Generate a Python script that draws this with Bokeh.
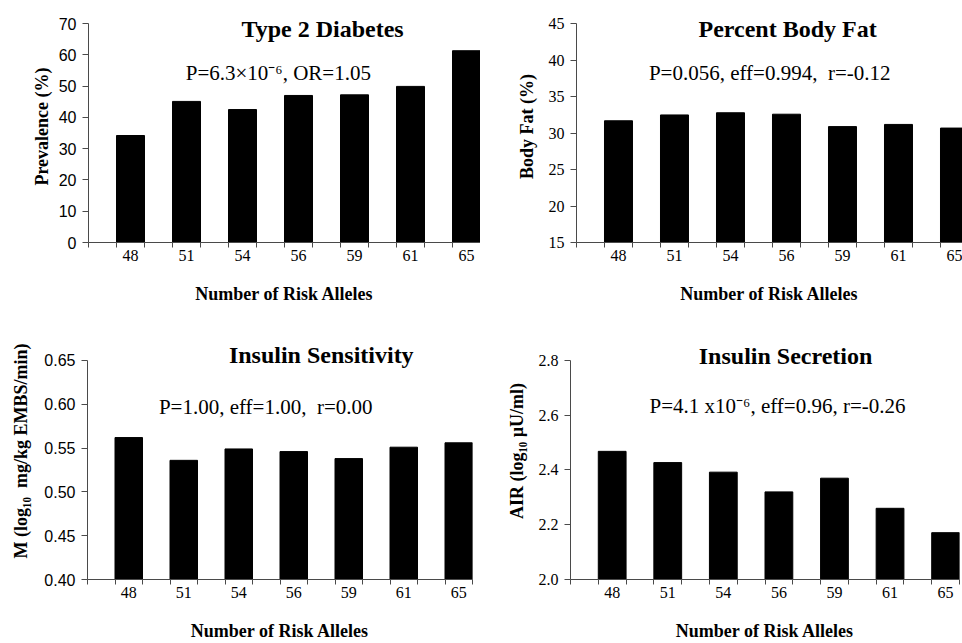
from bokeh.plotting import figure
from bokeh.models import Label, FixedTicker, NumeralTickFormatter
from bokeh.layouts import column, row
from bokeh.embed import file_html
from bokeh.resources import INLINE

# ---- data ----
alleles = ["48", "51", "54", "56", "59", "61", "65"]
t2d_prevalence = [34.2, 45.1, 42.5, 47.0, 47.2, 49.9, 61.3]
body_fat = [31.7, 32.5, 32.8, 32.6, 30.9, 31.2, 30.7]
insulin_sensitivity = [0.562, 0.536, 0.549, 0.546, 0.538, 0.551, 0.556]
insulin_secretion = [2.468, 2.427, 2.392, 2.320, 2.370, 2.260, 2.171]

t2d_ticks = [0, 10, 20, 30, 40, 50, 60, 70]
bf_ticks = [15, 20, 25, 30, 35, 40, 45]
is_ticks = [0.40, 0.45, 0.50, 0.55, 0.60, 0.65]
air_ticks = [2.0, 2.2, 2.4, 2.6, 2.8]

titles = ["Type 2 Diabetes", "Percent Body Fat", "Insulin Sensitivity", "Insulin Secretion"]
stats = ["P=6.3×10⁻⁶, OR=1.05",
         "P=0.056, eff=0.994,\u00a0 r=-0.12",
         "P=1.00, eff=1.00,\u00a0 r=0.00",
         "P=4.1 x10⁻⁶, eff=0.96, r=-0.26"]
ylabels = ["Prevalence (%)", "Body Fat (%)",
           "M (log₁₀\u00a0 mg/kg EMBS/min)", "AIR (log₁₀ µU/ml)"]
xlabel = "Number of Risk Alleles"

SERIF = "Liberation Serif"
SANS = "Liberation Sans"
AXIS_COLOR = "#4a4a4a"


def panel(values, yticks, y_end, x_end, width, height, mb, tick_font, fmt,
          ylab, ylab_standoff, xlab_standoff, title, title_xy, stat, stat_xy):
    xs = list(range(len(alleles)))
    p = figure(width=width, height=height, output_backend="svg",
               toolbar_location=None, x_range=(-0.75, x_end),
               y_range=(yticks[0], y_end),
               min_border_left=mb[0], min_border_right=mb[1],
               min_border_top=mb[2], min_border_bottom=mb[3])
    p.outline_line_color = None
    p.xgrid.visible = False
    p.ygrid.visible = False
    p.background_fill_color = "white"
    p.border_fill_color = "white"

    p.vbar(x=xs, top=values, bottom=yticks[0], width=0.5,
           fill_color="black", line_color="black")

    # x axis
    minor = [-0.75] + [v for i in xs for v in (i - 0.25, i + 0.25)]
    xa = p.xaxis[0]
    xa.ticker = FixedTicker(ticks=xs, minor_ticks=minor)
    xa.major_label_overrides = {i: a for i, a in zip(xs, alleles)}
    xa.major_tick_line_color = None
    xa.major_tick_out = 5
    xa.major_tick_in = 0
    xa.minor_tick_out = 5
    xa.minor_tick_in = 0
    xa.minor_tick_line_color = AXIS_COLOR
    xa.axis_line_color = AXIS_COLOR
    xa.major_label_text_font = SERIF
    xa.major_label_text_font_size = "16px"
    xa.major_label_text_color = "black"
    xa.major_label_standoff = 2
    xa.axis_label = xlabel
    xa.axis_label_text_font = SERIF
    xa.axis_label_text_font_style = "bold"
    xa.axis_label_text_font_size = "18px"
    xa.axis_label_text_color = "black"
    xa.axis_label_standoff = xlab_standoff

    # y axis
    ya = p.yaxis[0]
    ya.ticker = FixedTicker(ticks=yticks)
    ya.bounds = (yticks[0], yticks[-1])
    ya.formatter = NumeralTickFormatter(format=fmt)
    ya.major_tick_out = 6
    ya.major_tick_in = 0
    ya.minor_tick_line_color = None
    ya.major_tick_line_color = AXIS_COLOR
    ya.axis_line_color = AXIS_COLOR
    ya.major_label_text_font = tick_font
    ya.major_label_text_font_size = "16px"
    ya.major_label_text_color = "black"
    ya.major_label_standoff = 6
    ya.axis_label = ylab
    ya.axis_label_text_font = SERIF
    ya.axis_label_text_font_style = "bold"
    ya.axis_label_text_font_size = "18px"
    ya.axis_label_text_color = "black"
    ya.axis_label_standoff = ylab_standoff

    p.add_layout(Label(x=title_xy[0], y=title_xy[1], text=title,
                       text_font=SERIF, text_font_style="bold",
                       text_font_size="24px", text_align="center",
                       text_baseline="alphabetic", text_color="black"))
    p.add_layout(Label(x=stat_xy[0], y=stat_xy[1], text=stat,
                       text_font=SERIF, text_font_size="21px",
                       text_align="center", text_baseline="alphabetic",
                       text_color="black"))
    return p


p1 = panel(t2d_prevalence, t2d_ticks, 74.16, 6.25, 480, 312, (88, 0, 10, 70),
           SANS, "0", ylabels[0], 4, 20, titles[0], (3.43, 68.4), stats[0], (2.64, 54.3))
p2 = panel(body_fat, bf_ticks, 46.83, 6.143, 482, 312, (96, 0, 10, 70),
           SERIF, "0", ylabels[1], 9, 20, titles[1], (3.02, 44.36), stats[1], (2.70, 38.32))
p3 = panel(insulin_sensitivity, is_ticks, 0.6933, 6.25, 480, 331, (87, 8, 10, 64),
           SANS, "0.00", ylabels[2], 10, 20, titles[2], (3.50, 0.6557), stats[2], (2.49, 0.5964))
p4 = panel(insulin_secretion, air_ticks, 2.9386, 6.25, 482, 331, (90, 3, 10, 64),
           SERIF, "0.0", ylabels[3], 9, 20, titles[3], (3.12, 2.818), stats[3], (2.975, 2.632))

layout = column(row(p1, p2, spacing=0), row(p3, p4, spacing=0), spacing=0)

open("out.html", "w").write(file_html(layout, INLINE))
